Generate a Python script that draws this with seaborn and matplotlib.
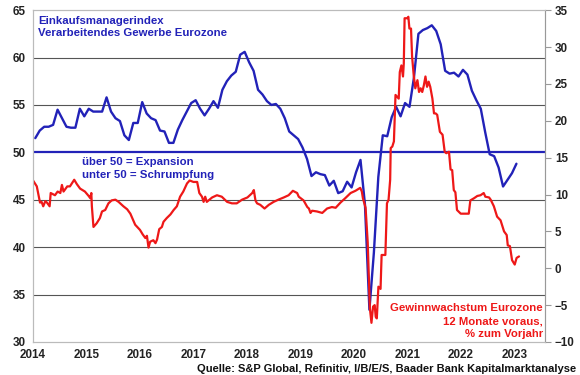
import pandas as pd
import seaborn as sns
import matplotlib.pyplot as plt

# Einkaufsmanagerindex (monatlich, ab Jan 2014)
pmi_start = 2014
pmi = [
    51.5, 52.3, 52.7, 52.7, 52.9, 54.5, 53.6, 52.7, 52.6, 52.6, 54.6, 53.8,
    54.6, 54.3, 54.3, 54.3, 55.8, 54.3, 53.6, 53.3, 51.8, 51.3, 53.1, 53.1,
    55.3, 54.1, 53.6, 53.4, 52.3, 52.2, 51.0, 51.0, 52.4, 53.4, 54.3, 55.2,
    55.5, 54.6, 53.9, 54.6, 55.4, 54.7, 56.6, 57.5, 58.1, 58.5, 60.3, 60.6,
    59.5, 58.6, 56.6, 56.1, 55.4, 55.0, 55.1, 54.6, 53.6, 52.2, 51.8, 51.4,
    50.5, 49.3, 47.5, 47.9, 47.7, 47.6, 46.5, 47.0, 45.7, 45.9, 46.9, 46.3,
    47.9, 49.2, 44.5, 33.4, 39.4, 47.4, 51.8, 51.7, 53.7, 54.8, 53.8, 55.2,
    54.8, 57.9, 62.5, 62.9, 63.1, 63.4, 62.8, 61.4, 58.6, 58.3, 58.4, 58.0,
    58.7, 58.2, 56.5, 55.5, 54.6, 52.1, 49.8, 49.6, 48.4, 46.4, 47.1, 47.8,
    48.8,
]

# Gewinnwachstum (Datum als Dezimaljahr, Wert in %)
red_t = [
    2014.00, 2014.07, 2014.13, 2014.16, 2014.19, 2014.23, 2014.26, 2014.31, 2014.33, 2014.41,
    2014.46, 2014.51, 2014.54, 2014.57, 2014.64, 2014.69, 2014.77, 2014.82, 2014.88, 2014.97,
    2015.04, 2015.07, 2015.09, 2015.10, 2015.13, 2015.19, 2015.25, 2015.29, 2015.35, 2015.41,
    2015.47, 2015.54, 2015.60, 2015.69, 2015.76, 2015.82, 2015.91, 2015.96, 2016.00, 2016.05,
    2016.10, 2016.13, 2016.16, 2016.19, 2016.25, 2016.29, 2016.32, 2016.36, 2016.41, 2016.44,
    2016.50, 2016.57, 2016.63, 2016.69, 2016.75, 2016.81, 2016.88, 2016.93, 2017.00, 2017.07,
    2017.11, 2017.16, 2017.19, 2017.22, 2017.25, 2017.35, 2017.44, 2017.53, 2017.63, 2017.72,
    2017.81, 2017.91, 2018.01, 2018.10, 2018.13, 2018.16, 2018.19, 2018.25, 2018.33, 2018.41,
    2018.50, 2018.59, 2018.69, 2018.78, 2018.86, 2018.94, 2018.97, 2019.06, 2019.13, 2019.16,
    2019.19, 2019.22, 2019.31, 2019.41, 2019.50, 2019.59, 2019.66, 2019.75, 2019.84, 2019.94,
    2020.03, 2020.12, 2020.15, 2020.17, 2020.22, 2020.26, 2020.30, 2020.33, 2020.36, 2020.39,
    2020.41, 2020.43, 2020.46, 2020.50, 2020.52, 2020.59, 2020.62, 2020.65, 2020.68, 2020.69,
    2020.72, 2020.75, 2020.78, 2020.84, 2020.86, 2020.89, 2020.92, 2020.935, 2020.95, 2021.00,
    2021.02, 2021.04, 2021.07, 2021.09, 2021.12, 2021.15, 2021.19, 2021.22, 2021.25, 2021.28,
    2021.31, 2021.34, 2021.37, 2021.40, 2021.43, 2021.47, 2021.50, 2021.53, 2021.56, 2021.61,
    2021.66, 2021.70, 2021.73, 2021.78, 2021.81, 2021.84, 2021.87, 2021.90, 2021.93, 2022.00,
    2022.06, 2022.15, 2022.18, 2022.25, 2022.31, 2022.37, 2022.43, 2022.46, 2022.53, 2022.56,
    2022.62, 2022.68, 2022.745, 2022.81, 2022.86, 2022.88, 2022.92, 2022.96, 2023.01, 2023.045,
    2023.09,
]
red_v = [
    11.9, 11.1, 8.9, 9.0, 8.4, 9.1, 8.9, 8.4, 10.2, 9.9,
    10.4, 10.2, 11.3, 10.4, 11.1, 11.1, 12.0, 11.4, 10.8, 10.4,
    9.8, 9.5, 10.2, 8.4, 5.6, 6.1, 6.8, 7.7, 7.9, 8.8,
    9.2, 9.3, 9.0, 8.4, 8.0, 7.4, 5.9, 5.5, 5.2, 4.6,
    4.1, 4.4, 2.8, 3.6, 3.8, 3.4, 3.9, 5.3, 5.6, 6.3,
    6.8, 7.3, 7.9, 8.4, 9.7, 10.4, 11.5, 11.9, 11.7, 11.7,
    10.2, 9.7, 9.0, 9.7, 9.0, 9.6, 9.9, 9.7, 9.0, 8.8,
    8.8, 9.3, 9.6, 10.2, 10.6, 9.2, 8.8, 8.6, 8.1, 8.6,
    9.0, 9.3, 9.6, 9.9, 10.5, 10.2, 9.7, 9.2, 8.3, 8.1,
    7.5, 7.8, 7.7, 7.5, 8.1, 8.3, 8.2, 8.9, 9.5, 10.2,
    10.5, 10.9, 10.4, 9.5, 8.2, 3.5, -5.4, -7.4, -5.2, -5.0,
    -6.6, -6.8, -2.5, -2.8, 1.8, 1.8, 8.8, 9.3, 12.0, 16.3,
    16.5, 17.2, 23.5, 23.0, 26.6, 27.5, 26.0, 27.8, 33.9, 33.9,
    34.1, 32.5, 32.5, 28.7, 26.2, 24.4, 25.5, 23.9, 24.4, 23.9,
    24.8, 26.0, 24.6, 25.3, 24.6, 23.0, 21.0, 21.0, 20.8, 18.5,
    18.1, 15.8, 15.6, 15.8, 13.4, 13.3, 10.6, 10.3, 7.9, 7.4,
    7.4, 7.4, 9.2, 9.5, 9.8, 9.9, 10.2, 9.7, 9.6, 9.3,
    8.4, 7.0, 6.5, 5.0, 4.5, 3.1, 3.0, 1.1, 0.5, 1.4,
    1.6,
]

years = list(range(2014, 2024))
left_ticks = [30, 35, 40, 45, 50, 55, 60, 65]
right_ticks = [-10, -5, 0, 5, 10, 15, 20, 25, 30, 35]

sns.set_theme(style="white")
plt.rcParams["font.family"] = ["Liberation Sans", "DejaVu Sans"]
plt.rcParams["font.weight"] = "bold"

blue = "#2222b8"
red = "#ee1818"

pmi_df = pd.DataFrame({"t": [pmi_start + (i + 0.5) / 12 for i in range(len(pmi))], "v": pmi})
red_df = pd.DataFrame({"t": red_t, "v": red_v})

fig = plt.figure(figsize=(5.8, 3.75), dpi=100)
ax = fig.add_axes([0.057, 0.088, 0.883, 0.885])
ax2 = ax.twinx()

# Gitterlinien
for v in [35, 40, 45, 55, 60]:
    ax.axhline(v, color="#555555", lw=0.8, zorder=0)
ax.axhline(50, color=blue, lw=1.6, zorder=1)

sns.lineplot(data=pmi_df, x="t", y="v", ax=ax, color=blue, lw=1.7, zorder=3)
sns.lineplot(data=red_df, x="t", y="v", ax=ax2, color=red, lw=1.6)

ax.set_xlim(2014, 2023.58)
ax.set_ylim(30, 65)
ax2.set_ylim(-10, 35)
ax.set_xticks(years)
ax.set_yticks(left_ticks)
ax2.set_yticks(right_ticks)
ax.set(xlabel="", ylabel="")
ax2.set(xlabel="", ylabel="")

for a in (ax, ax2):
    for s in a.spines.values():
        s.set_color("#bbbbbb")
        s.set_linewidth(0.8)
ax2.spines["right"].set_color("#999999")

ax.tick_params(axis="y", length=0, pad=5, labelsize=8.4, colors="#222222")
ax.tick_params(axis="x", length=3, width=0.8, color="#999999", pad=2, labelsize=8.4, labelcolor="#222222")
ax2.tick_params(axis="y", length=4, width=0.8, color="#999999", pad=3, labelsize=8.4, labelcolor="#222222")

W, H = 580, 375


def put(x, y, s, color, ha="left", size=8.2):
    fig.text(x / W, 1 - y / H, s, color=color, ha=ha, va="baseline",
             fontsize=size, fontweight="bold")


for y, s in zip([24, 36], ["Einkaufsmanagerindex", "Verarbeitendes Gewerbe Eurozone"]):
    put(38, y, s, blue)
for y, s in zip([165, 178], ["über 50 = Expansion", "unter 50 = Schrumpfung"]):
    put(82, y, s, blue)
for y, s in zip([311, 324, 337], ["Gewinnwachstum Eurozone", "12 Monate voraus,", "% zum Vorjahr"]):
    put(543, y, s, red, ha="right")
put(576, 372, "Quelle: S&P Global, Refinitiv, I/B/E/S, Baader Bank Kapitalmarktanalyse", "#111111",
    ha="right", size=8.0)

fig.savefig("out.png", dpi=100)
